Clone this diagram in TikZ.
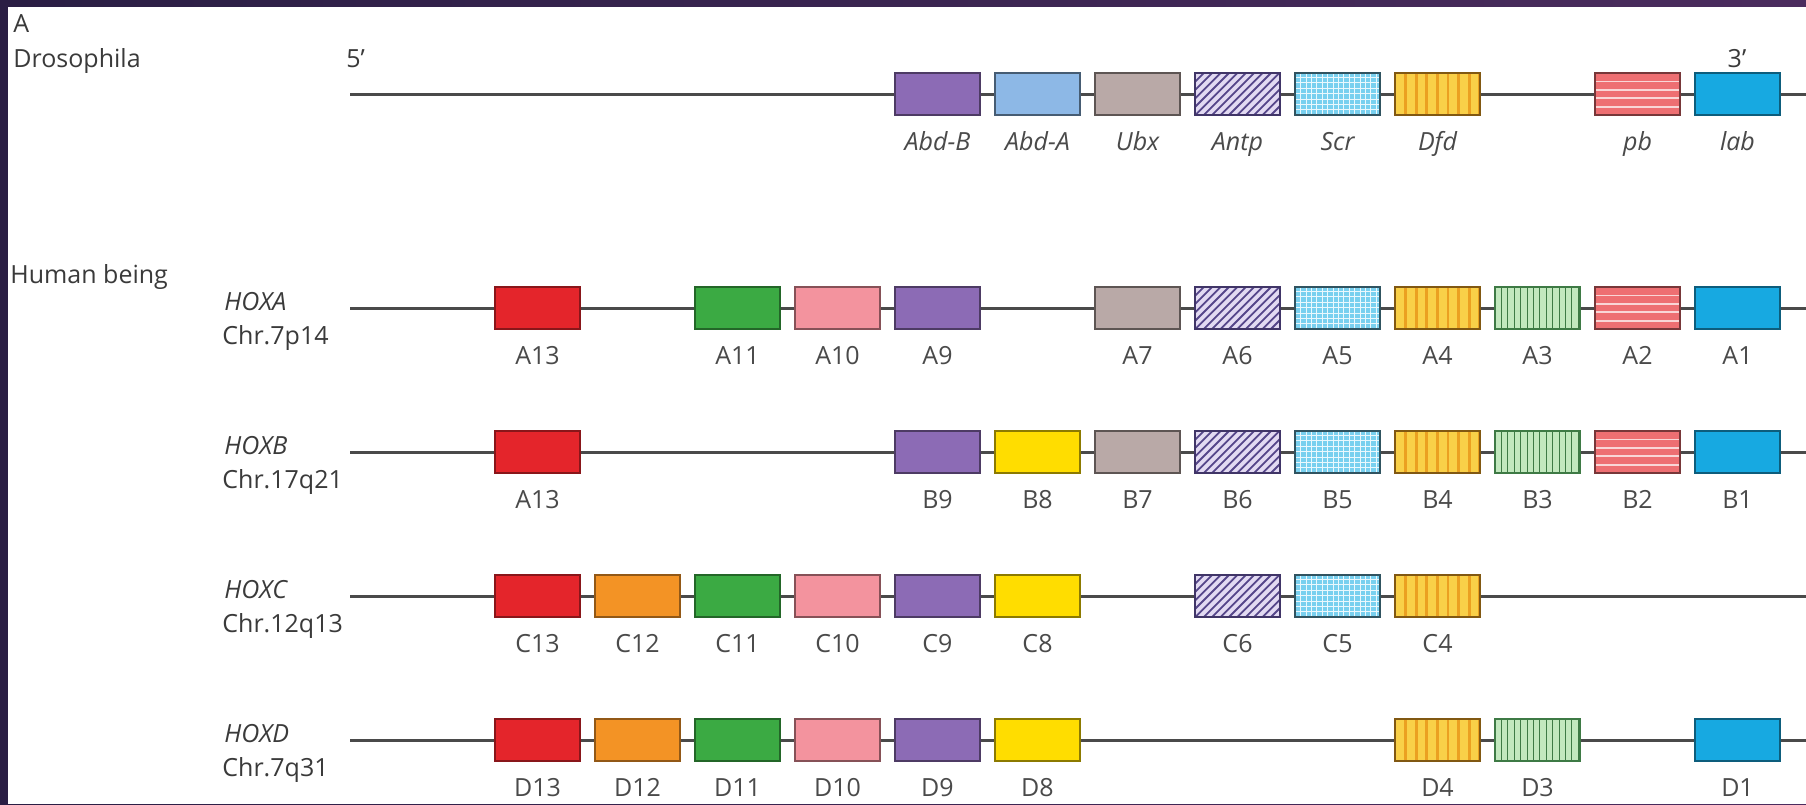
\documentclass[tikz,border=0pt]{standalone}
\usepackage{fontspec}
\setmainfont{Open Sans}
\usetikzlibrary{calc}

% frame and text colours
\definecolor{bandL}{HTML}{2A1E44}
\definecolor{bandR}{HTML}{4B2C5E}
\definecolor{txt}{HTML}{3A3A3A}
\definecolor{genetxt}{HTML}{4A4A4A}
\definecolor{chromline}{HTML}{4A4A4A}
% paralogue colours
\definecolor{c13}{HTML}{E4252B}
\definecolor{c12}{HTML}{F39325}
\definecolor{c11}{HTML}{3BAA43}
\definecolor{c10}{HTML}{F3939E}
\definecolor{c9}{HTML}{8C6BB5}
\definecolor{c8}{HTML}{FFDD00}
\definecolor{cAbdA}{HTML}{8DB8E6}
\definecolor{c7}{HTML}{B9A9A7}
\definecolor{c6}{HTML}{E2DAF2}
\definecolor{c6line}{HTML}{55468A}
\definecolor{c5}{HTML}{79D0EF}
\definecolor{c4}{HTML}{F9D048}
\definecolor{c4line}{HTML}{EBA021}
\definecolor{c3}{HTML}{C2E8BE}
\definecolor{c3line}{HTML}{3E7A45}
\definecolor{c2}{HTML}{EE6F72}
\definecolor{c2line}{HTML}{F9D6D6}
\definecolor{c1}{HTML}{17A9E1}

% one gene box with its name underneath
\newcommand\hoxgene[6]{%
  \node[#4] (#1) at ({937.5+(9-#2)*100},#3) {};
  \node[#5] (#1-name) at ({937.5+(9-#2)*100},#3+56) {#6};
}

\tikzset{
  chrom/.style={draw=chromline, line width=1.5pt},
  sidelabel/.style={font=\fontsize{12.5}{15}\selectfont, text=txt, inner sep=0pt, anchor=base west},
  flylabel/.style={font=\fontsize{12.5}{15}\selectfont\itshape, text=genetxt, inner sep=0pt, anchor=base},
  humlabel/.style={font=\fontsize{12.5}{15}\selectfont, text=genetxt, inner sep=0pt, anchor=base},
  genebox/.style={rectangle, inner sep=0pt, minimum width=42.5pt, minimum height=21pt, line width=1pt},
  vstripes/.style n args={3}{path picture={
    \coordinate (ppsw) at (path picture bounding box.south west);
    \foreach \k in {0,...,30}{\draw[#1, line width=#3] ([xshift=\k*#2]ppsw) -- ++(0pt,30pt);}}},
  hstripes/.style n args={3}{path picture={
    \coordinate (ppsw) at (path picture bounding box.south west);
    \foreach \k in {0,...,12}{\draw[#1, line width=#3] ([yshift=\k*#2]ppsw) -- ++(50pt,0pt);}}},
  dstripes/.style n args={3}{path picture={
    \coordinate (ppsw) at (path picture bounding box.south west);
    \foreach \k in {0,...,24}{\draw[#1, line width=#3] ([xshift=\k*#2-25pt]ppsw) -- ++(30pt,30pt);}}},
  gridlines/.style n args={3}{path picture={
    \coordinate (ppsw) at (path picture bounding box.south west);
    \foreach \k in {0,...,24}{\draw[#1, line width=#3] ([xshift=\k*#2]ppsw) -- ++(0pt,30pt);}
    \foreach \k in {0,...,12}{\draw[#1, line width=#3] ([yshift=\k*#2]ppsw) -- ++(50pt,0pt);}}},
  p13/.style={genebox, fill=c13, draw=c13!60!black},
  p12/.style={genebox, fill=c12, draw=c12!60!black},
  p11/.style={genebox, fill=c11, draw=c11!60!black},
  p10/.style={genebox, fill=c10, draw=c10!55!black},
  p9/.style={genebox, fill=c9, draw=c9!55!black},
  pAbdB/.style={genebox, fill=c9, draw=c9!55!black},
  p8/.style={genebox, fill=c8, draw=c8!55!black},
  pAbdA/.style={genebox, fill=cAbdA, draw=cAbdA!50!black},
  p7/.style={genebox, fill=c7, draw=c7!50!black},
  p6/.style={genebox, fill=c6, draw=c6line!75!black, dstripes={c6line}{4.2pt}{0.9pt}},
  p5/.style={genebox, fill=c5, draw=c5!40!black, gridlines={white!85!c5}{2.7pt}{0.3pt}},
  p4/.style={genebox, fill=c4, draw=c4line!55!black, vstripes={c4line}{5.3pt}{1.4pt}},
  p3/.style={genebox, fill=c3, draw=c3line, vstripes={c3line}{3.2pt}{0.4pt}},
  p2/.style={genebox, fill=c2, draw=c2!50!black, hstripes={c2line}{4.2pt}{0.9pt}},
  p1/.style={genebox, fill=c1, draw=c1!55!black}
}

\begin{document}
\begin{tikzpicture}[x=0.5pt, y=-0.5pt]
\useasboundingbox (0,0) rectangle (1806,804);
% dark frame along the top and left edges
\shade[left color=bandL, right color=bandR] (0,0) rectangle (1806,804);
\fill[white] (8,7) rectangle (1806,804);

% headings
\node[sidelabel] (panel) at (13,32) {A};
\node[sidelabel] (fly) at (13,67) {Drosophila};
\node[sidelabel] (five) at (346,67) {5'};
\node[sidelabel, anchor=base] (three) at (1737,67) {3'};
\node[sidelabel] (human) at (10,283) {Human being};

% cluster names
\foreach \r/\y/\chr in {A/308/Chr.7p14, B/452/Chr.17q21, C/596/Chr.12q13, D/740/Chr.7q31}{
  \node[sidelabel, font=\fontsize{12.5}{15}\selectfont\itshape] (hox\r) at (224,\y+2) {HOX\r};
  \node[sidelabel] (chr\r) at (222,\y+36) {\chr};
}

% chromosome lines
\foreach \r/\y in {dm/94, A/308, B/452, C/596, D/740}{
  \coordinate (\r-start) at (350,\y);
  \coordinate (\r-end) at (1806,\y);
  \draw[chrom] (\r-start) -- (\r-end);
}

% Drosophila HOM-C
\foreach \n/\sty/\lbl in {9/pAbdB/Abd-B, 8/pAbdA/Abd-A, 7/p7/Ubx, 6/p6/Antp, 5/p5/Scr, 4/p4/Dfd, 2/p2/pb, 1/p1/lab}{
  \hoxgene{dm\n}{\n}{94}{\sty}{flylabel}{\lbl}
}

% HOXA
\foreach \n/\sty in {13/p13, 11/p11, 10/p10, 9/p9, 7/p7, 6/p6, 5/p5, 4/p4, 3/p3, 2/p2, 1/p1}{
  \hoxgene{a\n}{\n}{308}{\sty}{humlabel}{A\n}
}

% HOXB
\hoxgene{b13}{13}{452}{p13}{humlabel}{A13}
\foreach \n/\sty in {9/p9, 8/p8, 7/p7, 6/p6, 5/p5, 4/p4, 3/p3, 2/p2, 1/p1}{
  \hoxgene{b\n}{\n}{452}{\sty}{humlabel}{B\n}
}

% HOXC
\foreach \n/\sty in {13/p13, 12/p12, 11/p11, 10/p10, 9/p9, 8/p8, 6/p6, 5/p5, 4/p4}{
  \hoxgene{c\n}{\n}{596}{\sty}{humlabel}{C\n}
}

% HOXD
\foreach \n/\sty in {13/p13, 12/p12, 11/p11, 10/p10, 9/p9, 8/p8, 4/p4, 3/p3, 1/p1}{
  \hoxgene{d\n}{\n}{740}{\sty}{humlabel}{D\n}
}
\end{tikzpicture}
\end{document}
